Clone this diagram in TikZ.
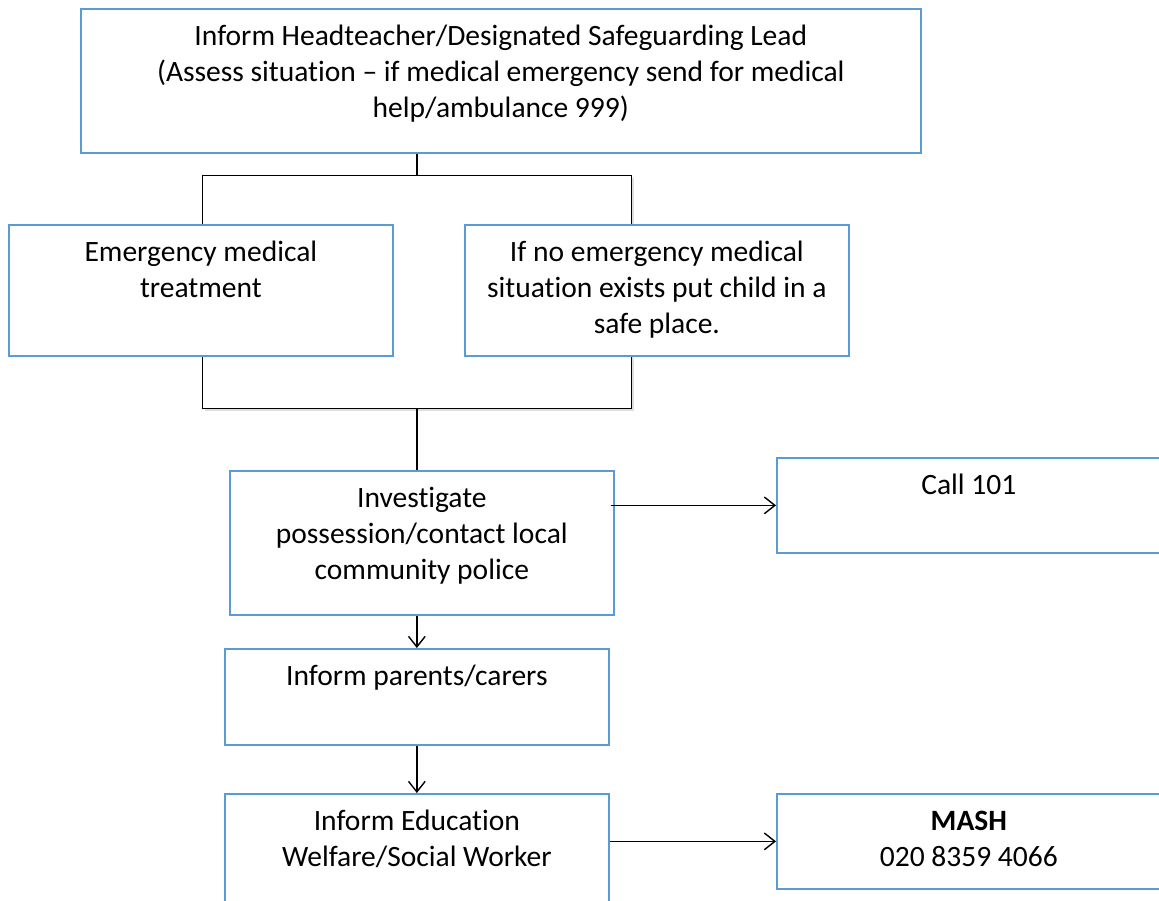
\documentclass[tikz,border=0pt]{standalone}
\usepackage{fontspec}
\setmainfont[Ligatures=NoCommon]{Carlito}
\usepackage{tikz}
\usetikzlibrary{arrows.meta,shadows,positioning}

\definecolor{boxblue}{RGB}{91,155,213}
\newcommand{\boxtxt}[3]{\parbox[c][#2][t]{#1}{\centering\rule{0pt}{21pt}#3}}

\tikzset{
  box/.style={draw=boxblue, line width=1pt, fill=white, inner sep=0pt, anchor=north west},
  link/.style={line width=0.8pt},
  arr/.style={line width=0.8pt, -{Straight Barb[length=6pt, width=9.5pt]}}
}

\begin{document}
\fontsize{16.8}{20.5}\selectfont
\begin{tikzpicture}[x=0.02cm, y=-0.02cm]
\clip (0,0) rectangle (1159,900);
\fill[white] (0,0) rectangle (1159,900);

% group frame behind the two middle boxes
\node[draw=black, line width=0.6pt, fill=white, anchor=north west, minimum width=8.58cm, minimum height=4.66cm, inner sep=0pt,
  drop shadow={shadow xshift=1.5pt, shadow yshift=-1.5pt, opacity=0.25}] (group) at (202,175) {};

\node[box] (top) at (80,8) {\boxtxt{16.8cm}{2.88cm}{Inform Headteacher/Designated Safeguarding Lead\\(Assess situation -- if medical emergency send for medical\\help/ambulance 999)}};
\node[box] (emerg) at (8,224) {\boxtxt{7.68cm}{2.62cm}{Emergency medical\\treatment}};
\node[box] (nosit) at (464,224) {\boxtxt{7.68cm}{2.62cm}{If no emergency medical\\situation exists put child in a\\safe place.}};
\node[box] (invest) at (229,470) {\boxtxt{7.68cm}{2.88cm}{Investigate\\possession/contact local\\community police}};
\node[box] (call) at (776,457) {\boxtxt{7.68cm}{1.9cm}{Call 101}};
\node[box] (parents) at (224,648) {\boxtxt{7.68cm}{1.92cm}{Inform parents/carers}};
\node[box] (educ) at (224,793) {\boxtxt{7.68cm}{2.88cm}{Inform Education\\Welfare/Social Worker}};
\node[box] (mash) at (776,793) {\boxtxt{7.68cm}{1.9cm}{\textbf{MASH}\\020 8359 4066}};

% connectors
\draw[link] (group.north |- top.south) -- (group.north);
\draw[link] (group.south) -- (group.south |- invest.north);
\draw[arr] (call.west -| invest.east) ++(-4,0) -- (call.west);
\draw[arr] (parents.north |- invest.south) -- (parents.north);
\draw[arr] (parents.south) -- (educ.north);
\draw[arr] (mash.west -| educ.east) -- (mash.west);
\end{tikzpicture}
\end{document}
